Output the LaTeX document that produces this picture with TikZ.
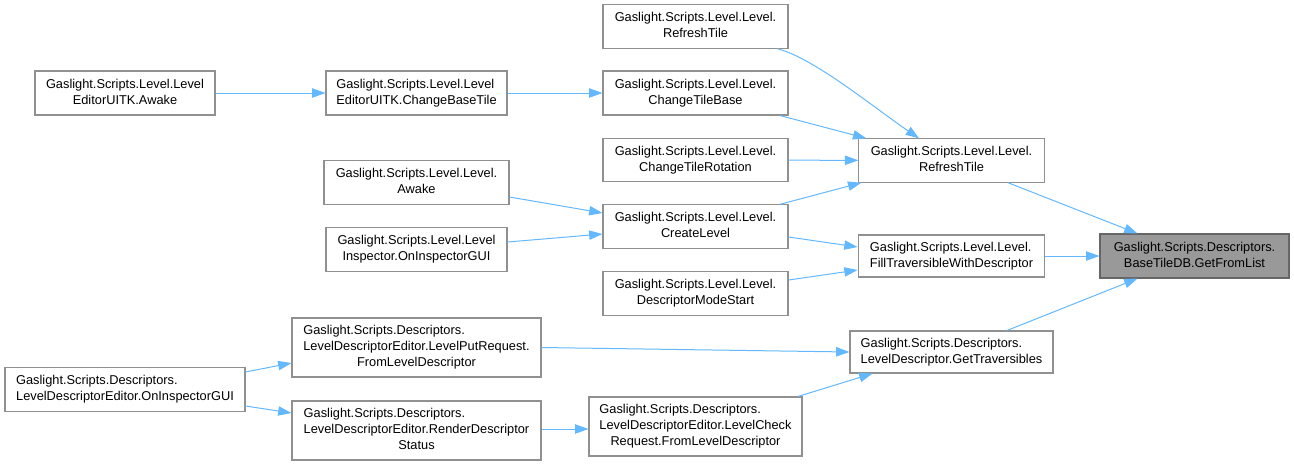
\documentclass[tikz,border=0pt]{standalone}
\usepackage{fontspec}
\setmainfont{Liberation Sans}
\usetikzlibrary{arrows.meta,calc}
\definecolor{edgeblue}{HTML}{63B8FF}
\definecolor{boxborder}{HTML}{909090}
\definecolor{rootfill}{HTML}{999999}
\definecolor{rootborder}{HTML}{666666}
\newcommand{\lbl}[2]{\begin{tabular}{@{}l@{}}#1\\\multicolumn{1}{@{}c@{}}{#2}\end{tabular}}
\newcommand{\lblthree}[3]{\begin{tabular}{@{}l@{}}#1\\#2\\\multicolumn{1}{@{}c@{}}{#3}\end{tabular}}
\begin{document}
\begin{tikzpicture}[x=0.75pt,y=-0.75pt,
  fn/.style={draw=boxborder, line width=0.8pt, fill=white, inner sep=0pt, align=center,
    font=\fontsize{9.6}{12}\selectfont, text=black},
  rootfn/.style={fn, draw=rootborder, fill=rootfill},
  edge/.style={draw=edgeblue, line width=0.75pt, -{Triangle[length=10pt,width=7pt]}}]
\useasboundingbox (0,0) rectangle (1294,465);
% nodes
\node[fn, minimum width=135pt, minimum height=33pt] (A) at (125,93) {\lbl{Gaslight.Scripts.Level.Level}{EditorUITK.Awake}};
\node[fn, minimum width=135.75pt, minimum height=33pt] (B) at (416.5,93) {\lbl{Gaslight.Scripts.Level.Level}{EditorUITK.ChangeBaseTile}};
\node[fn, minimum width=138.75pt, minimum height=32.5pt] (C) at (695.5,26.5) {\lbl{Gaslight.Scripts.Level.Level.}{RefreshTile}};
\node[fn, minimum width=138.75pt, minimum height=33pt] (D) at (695.5,93) {\lbl{Gaslight.Scripts.Level.Level.}{ChangeTileBase}};
\node[fn, minimum width=138.75pt, minimum height=32.5pt] (E) at (695.5,160) {\lbl{Gaslight.Scripts.Level.Level.}{ChangeTileRotation}};
\node[fn, minimum width=138.75pt, minimum height=32.5pt] (F) at (695.5,226.5) {\lbl{Gaslight.Scripts.Level.Level.}{CreateLevel}};
\node[fn, minimum width=138.75pt, minimum height=32.5pt] (G) at (695.5,293.5) {\lbl{Gaslight.Scripts.Level.Level.}{DescriptorModeStart}};
\node[fn, minimum width=139pt, minimum height=32.5pt] (H) at (951.5,160.5) {\lbl{Gaslight.Scripts.Level.Level.}{RefreshTile}};
\node[fn, minimum width=140pt, minimum height=31.5pt] (I) at (951.5,256) {\lbl{Gaslight.Scripts.Level.Level.}{FillTraversibleWithDescriptor}};
\node[rootfn, minimum width=141.75pt, minimum height=33pt] (J) at (1194.5,256) {\lbl{Gaslight.Scripts.Descriptors.}{BaseTileDB.GetFromList}};
\node[fn, minimum width=138.75pt, minimum height=32.5pt] (K) at (416.5,182.5) {\lbl{Gaslight.Scripts.Level.Level.}{Awake}};
\node[fn, minimum width=135.75pt, minimum height=32.5pt] (L) at (416.5,249.5) {\lbl{Gaslight.Scripts.Level.Level}{Inspector.OnInspectorGUI}};
\node[fn, minimum width=180pt, minimum height=32.5pt] (M) at (125,389.5) {\lbl{Gaslight.Scripts.Descriptors.}{LevelDescriptorEditor.OnInspectorGUI}};
\node[fn, minimum width=186.75pt, minimum height=44.25pt] (N) at (416.5,347.5) {\lblthree{Gaslight.Scripts.Descriptors.}{LevelDescriptorEditor.LevelPutRequest.}{FromLevelDescriptor}};
\node[fn, minimum width=186.75pt, minimum height=44.25pt] (O) at (416.5,430.5) {\lblthree{Gaslight.Scripts.Descriptors.}{LevelDescriptorEditor.RenderDescriptor}{Status}};
\node[fn, minimum width=159.75pt, minimum height=44.25pt] (P) at (695.5,426.5) {\lblthree{Gaslight.Scripts.Descriptors.}{LevelDescriptorEditor.LevelCheck}{Request.FromLevelDescriptor}};
\node[fn, minimum width=152.25pt, minimum height=31.5pt] (Q) at (951.5,352) {\lbl{Gaslight.Scripts.Descriptors.}{LevelDescriptor.GetTraversibles}};
% edges
\draw[edge] (A) -- (B);
\draw[edge] (B) -- (D);
\draw[edge] (C) .. controls (814.75,58.75) and (872.75,106.75) .. (H);
\draw[edge] ($(D.south)+(84.5,0)$) -- ($(H.north west)+(8,0)$);
\draw[edge] (E) -- (H);
\draw[edge] ($(F.north)+(84.5,0)$) -- ($(H.south west)+(3,0)$);
\draw[edge] ($(K.east)+(0,14.5)$) -- ($(F.west)+(0,-13.5)$);
\draw[edge] ($(L.east)+(0,-7.5)$) -- ($(F.west)+(0,7.5)$);
\draw[edge] ($(F.east)+(0,10.5)$) -- ($(I.west)+(0,-9)$);
\draw[edge] ($(G.east)+(0,-13.5)$) -- ($(I.west)+(0,14)$);
\draw[edge] ($(H.south)+(56.5,0)$) -- ($(J.north west)+(38,0)$);
\draw[edge] (I) -- (J);
\draw[edge] ($(Q.north)+(55.5,0)$) -- ($(J.south west)+(38,0)$);
\draw[edge] ($(M.east)+(0,-17.5)$) -- ($(N.west)+(0,15.5)$);
\draw[edge] ($(M.east)+(0,16.5)$) -- ($(O.west)+(0,-17.5)$);
\draw[edge] (N.east) -- (Q.west);
\draw[edge] ($(O.east)+(0,-1.5)$) -- ($(P.west)+(0,2.5)$);
\draw[edge] ($(P.north)+(102.5,0)$) -- ($(Q.south west)+(23,0)$);
\end{tikzpicture}
\end{document}
